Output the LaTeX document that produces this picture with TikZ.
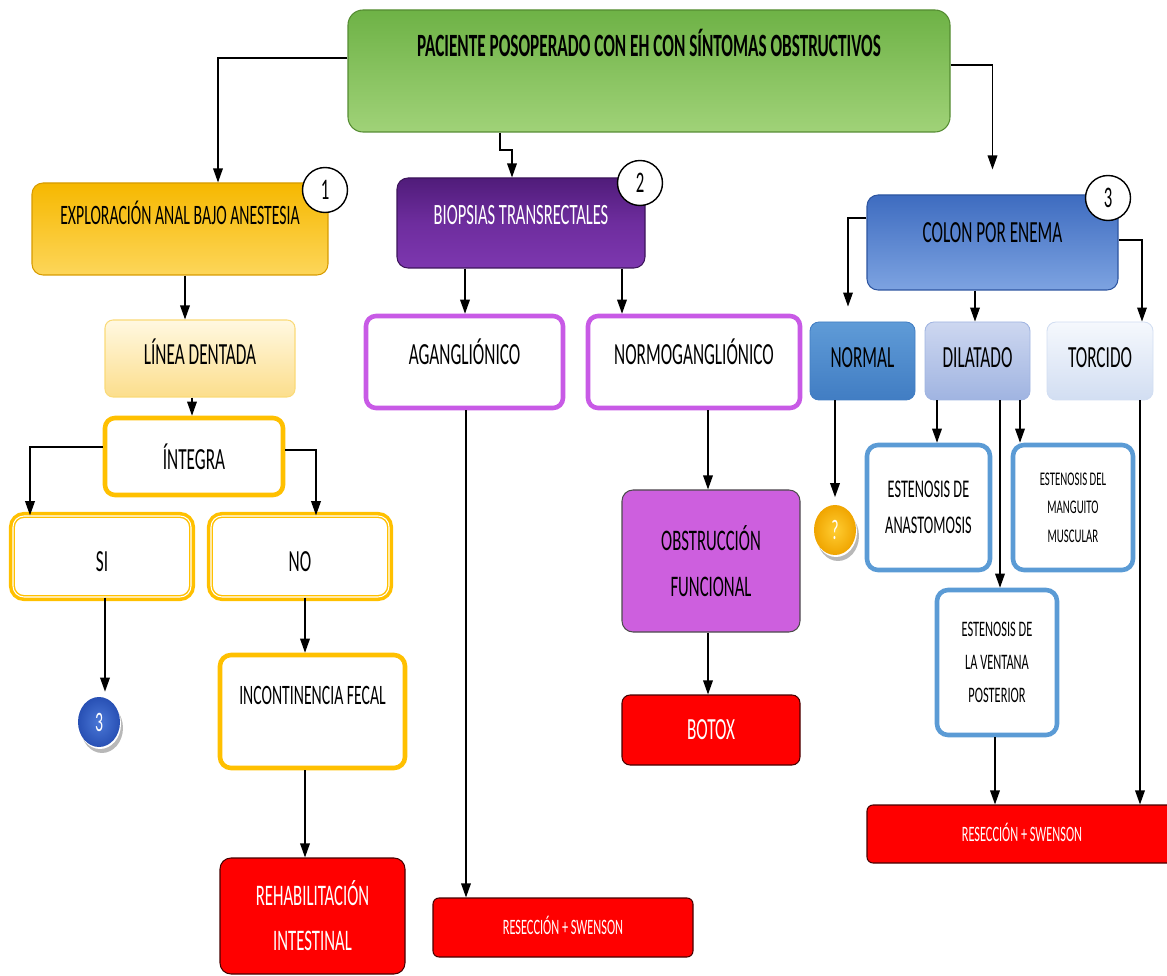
\documentclass[tikz,border=0pt]{standalone}
\usepackage{fontspec}
\setmainfont{Carlito}[FakeStretch=0.56]
\newfontfamily\titlefont{Carlito}[FakeStretch=0.53]
\usetikzlibrary{arrows.meta,shapes.geometric}
\definecolor{gTop}{RGB}{110,178,70}
\definecolor{gBot}{RGB}{160,210,120}
\definecolor{gLine}{RGB}{85,140,50}
\definecolor{yTop}{RGB}{246,184,0}
\definecolor{yBot}{RGB}{253,214,90}
\definecolor{yLine}{RGB}{215,155,0}
\definecolor{ldTop}{RGB}{255,248,225}
\definecolor{ldBot}{RGB}{252,222,140}
\definecolor{ldLine}{RGB}{250,218,120}
\definecolor{orng}{RGB}{255,192,0}
\definecolor{pTop}{RGB}{80,28,122}
\definecolor{pMid}{RGB}{110,45,158}
\definecolor{pBot}{RGB}{125,55,175}
\definecolor{pLine}{RGB}{60,20,90}
\definecolor{vio}{RGB}{200,90,230}
\definecolor{vioFill}{RGB}{205,95,222}
\definecolor{redF}{RGB}{255,0,0}
\definecolor{redL}{RGB}{70,0,0}
\definecolor{cTop}{RGB}{62,108,192}
\definecolor{cBot}{RGB}{125,163,225}
\definecolor{cLine}{RGB}{45,85,160}
\definecolor{nTop}{RGB}{95,155,215}
\definecolor{nBot}{RGB}{65,125,195}
\definecolor{dTop}{RGB}{205,215,240}
\definecolor{dBot}{RGB}{160,180,225}
\definecolor{tTop}{RGB}{245,248,253}
\definecolor{tBot}{RGB}{210,222,242}
\definecolor{bLine}{RGB}{91,155,213}
\definecolor{blueBallIn}{RGB}{75,120,215}
\definecolor{blueBallOut}{RGB}{40,80,180}
\definecolor{yBallIn}{RGB}{255,205,50}
\definecolor{yBallOut}{RGB}{240,165,0}
\newcommand{\fs}[2]{\fontsize{#1}{#2}\selectfont}
\tikzset{
  bx/.style 2 args={rectangle, rounded corners=0.22cm, minimum width=#1*0.02cm,
    minimum height=#2*0.02cm, inner sep=0pt, font=\fs{17.5}{21}},
  tup/.style={text height=0pt, text depth=#1},
  tdn/.style={text height=#1, text depth=0pt},
  ml/.style={align=center},
  dblbox/.style={fill=white, draw=orng, line width=0.8pt, double=white,
    double distance=0.6pt, preaction={draw=orng, line width=4.6pt},
    rounded corners=0.22cm},
  circ/.style={circle, draw=black, line width=0.8pt, fill=white, minimum size=45*0.02cm,
    inner sep=0pt, font=\fs{17}{20}},
  ball/.style={ellipse, minimum width=42*0.02cm, minimum height=50*0.02cm, inner sep=0pt,
    text=white, font=\fs{16}{18}},
  arr/.style={draw=black, line width=0.75pt, -{Triangle[length=8pt,width=5.5pt]}},
}
\begin{document}
\begin{tikzpicture}[x=0.02cm,y=-0.02cm]
\useasboundingbox (0,0) rectangle (1167,976);

% ---------- top ----------
\node[bx={602}{122}, top color=gTop, bottom color=gBot, draw=gLine, line width=0.6pt,
  rounded corners=0.3cm, font=\titlefont\bfseries\fs{18.5}{22}, tup=0.56cm] (top) at (649,71)
  {PACIENTE POSOPERADO CON EH CON SÍNTOMAS OBSTRUCTIVOS};

% ---------- column 1 ----------
\node[bx={296}{92}, top color=yTop, bottom color=yBot, draw=yLine, line width=0.6pt,
  font=\fs{16}{19}, tup=0.16cm] (expl) at (180,229) {EXPLORACIÓN ANAL BAJO ANESTESIA};
\node[circ] (c1) at (325,190) {1};
\node[bx={190}{77}, top color=ldTop, bottom color=ldBot, draw=ldLine, line width=0.6pt,
  rounded corners=0.16cm, tdn=0.26cm] (linea) at (200,358.5) {LÍNEA DENTADA};
\node[bx={178}{77}, fill=white, draw=orng, line width=2.6pt, rounded corners=0.2cm,
  tdn=0.54cm] (integra) at (194,456.5) {ÍNTEGRA};
\node[bx={178}{81}, dblbox, tdn=0.62cm] (si) at (102,556.5) {SI};
\node[bx={178}{81}, dblbox, tdn=0.62cm] (no) at (300,556.5) {NO};
\fill[black!28] (102,728) ellipse [x radius=0.42cm, y radius=0.5cm];
\fill[white] (100,724) ellipse [x radius=0.42cm, y radius=0.5cm];
\node[ball, inner color=blueBallIn, outer color=blueBallOut] (b3) at (99,722) {3};
\node[bx={185}{113}, fill=white, draw=orng, line width=2.6pt, font=\fs{16}{19},
  tup=0.3cm] (incont) at (312.5,711.5) {INCONTINENCIA FECAL};
\node[bx={185}{116}, fill=redF, draw=redL, line width=0.6pt, text=white,
  font=\fs{17}{25.5}, ml] (rehab) at (312.5,916) {REHABILITACIÓN\\INTESTINAL};

% ---------- column 2 ----------
\node[bx={248}{90}, top color=pTop, bottom color=pBot, middle color=pMid, draw=pLine,
  line width=0.6pt, text=white, font=\fs{16.8}{20}, tdn=0.06cm] (biop) at (521,223)
  {BIOPSIAS TRANSRECTALES};
\node[circ] (c2) at (640,183) {2};
\node[bx={197}{92}, fill=white, draw=vio, line width=2.6pt, rounded corners=0.2cm,
  tdn=0.12cm] (agang) at (464.5,362) {AGANGLIÓNICO};
\node[bx={212}{92}, fill=white, draw=vio, line width=2.6pt, rounded corners=0.2cm,
  tdn=0.12cm] (normo) at (694,362) {NORMOGANGLIÓNICO};
\node[bx={260}{59}, fill=redF, draw=redL, line width=0.6pt, rounded corners=0.12cm,
  text=white, font=\fs{12.5}{15}, tdn=0.28cm] (res1) at (563,927.5) {RESECCIÓN + SWENSON};
\node[bx={178}{142}, fill=vioFill, draw=black!70, line width=0.6pt, font=\fs{17}{26.5},
  ml] (obst) at (711,561) {OBSTRUCCIÓN\\FUNCIONAL};
\node[bx={178}{70}, fill=redF, draw=redL, line width=0.6pt, rounded corners=0.16cm,
  text=white, tdn=0.4cm] (botox) at (711,730) {BOTOX};

% ---------- column 3 ----------
\node[bx={251}{95}, top color=cTop, bottom color=cBot, draw=cLine, line width=0.6pt,
  tup=0cm] (colon) at (992.5,242.5) {COLON POR ENEMA};
\node[circ] (c3) at (1108,198) {3};
\node[bx={105}{78}, top color=nTop, bottom color=nBot, draw=nBot, line width=0.5pt,
  rounded corners=0.18cm, tdn=0.28cm] (normal) at (862.5,361) {NORMAL};
\node[bx={105}{78}, top color=dTop, bottom color=dBot, draw=dBot, line width=0.5pt,
  rounded corners=0.18cm, tdn=0.28cm] (dilat) at (977.5,361) {DILATADO};
\node[bx={106}{78}, top color=tTop, bottom color=tBot, draw=tBot, line width=0.5pt,
  rounded corners=0.18cm, tdn=0.28cm] (torc) at (1100,361) {TORCIDO};
\fill[black!28] (838,536) ellipse [x radius=0.42cm, y radius=0.5cm];
\fill[white] (836,532) ellipse [x radius=0.42cm, y radius=0.5cm];
\node[ball, inner color=yBallIn, outer color=yBallOut] (q) at (835,530) {?};
\node[bx={123}{125}, fill=white, draw=bLine, line width=2.6pt, font=\fs{14.5}{20.4},
  ml] (anast) at (928.5,507.5) {ESTENOSIS DE\\ANASTOMOSIS};
\node[bx={120}{125}, fill=white, draw=bLine, line width=2.6pt, font=\fs{11}{16.2},
  ml] (mang) at (1073,507.5) {ESTENOSIS DEL\\MANGUITO\\MUSCULAR};
\node[bx={120}{145}, fill=white, draw=bLine, line width=2.6pt, font=\fs{12.6}{19},
  ml] (vent) at (997,662.5) {ESTENOSIS DE\\LA VENTANA\\POSTERIOR};
\node[bx={310}{58}, fill=redF, draw=redL, line width=0.6pt, rounded corners=0.12cm,
  text=white, font=\fs{12.5}{15}, tdn=0.28cm] (res2) at (1022,834) {RESECCIÓN + SWENSON};

% ---------- connectors ----------
\draw[arr] (top.west |- 0,58) -| (218,0 |- expl.north);
\draw[arr] (500,0 |- top.south) -- (500,150) -| (512,0 |- biop.north);
\draw[arr, shorten >=0.5cm] (top.east |- 0,65) -| (colon.north);

\draw[arr] (185,0 |- expl.south) -- (185,0 |- linea.north);
\draw[arr] (192,0 |- linea.south) -- (192,0 |- integra.north);
\draw[arr] (integra.west |- 0,447) -| (30,0 |- si.north);
\draw[arr] (integra.east |- 0,450) -| (316,0 |- no.north);
\draw[arr, shorten >=0.1cm] (105,0 |- si.south) -- (105,0 |- b3.north);
\draw[arr] (305,0 |- no.south) -- (305,0 |- incont.north);
\draw[arr] (305,0 |- incont.south) -- (305,0 |- rehab.north);

\draw[arr] (465,0 |- biop.south) -- (465,0 |- agang.north);
\draw[arr] (622,0 |- biop.south) -- (622,0 |- normo.north);
\draw[arr] (466,0 |- agang.south) -- (466,0 |- res1.north);
\draw[arr] (708,0 |- normo.south) -- (708,0 |- obst.north);
\draw[arr] (708,0 |- obst.south) -- (708,0 |- botox.north);

\draw[arr, shorten >=0.3cm] (colon.west |- 0,218) -| (848,0 |- normal.north);
\draw[arr] (975,0 |- colon.south) -- (975,0 |- dilat.north);
\draw[arr] (colon.east |- 0,240) -| (1142,0 |- torc.north);
\draw[arr, shorten >=0.15cm] (835,0 |- normal.south) -- (835,0 |- q.north);
\draw[arr] (937,0 |- dilat.south) -- (937,0 |- anast.north);
\draw[arr] (1020,0 |- dilat.south) -- (1020,0 |- mang.north);
\draw[arr] (1000,0 |- dilat.south) -- (1000,0 |- vent.north);
\draw[arr] (995,0 |- vent.south) -- (995,0 |- res2.north);
\draw[arr] (1140,0 |- torc.south) -- (1140,0 |- res2.north);
\end{tikzpicture}
\end{document}
